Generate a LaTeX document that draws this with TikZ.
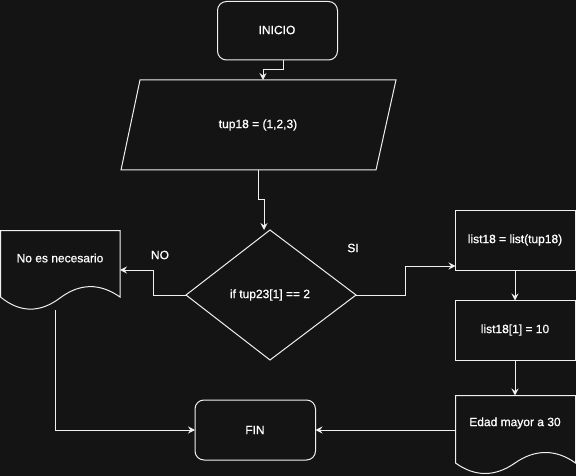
\documentclass[tikz,border=0pt]{standalone}
\usepackage{fontspec}
\setmainfont{Liberation Sans}
\newfontfamily\labfont[FakeBold=0.8]{Liberation Sans}
\usetikzlibrary{arrows.meta}
\definecolor{bg}{HTML}{141414}
\definecolor{fg}{HTML}{F0F0F0}
\begin{document}
\begin{tikzpicture}[x=1pt,y=-1pt,
  shp/.style={draw=fg,line width=1pt,line join=miter},
  txt/.style={text=white,font=\labfont\fontsize{12}{14}\selectfont,inner sep=0pt},
  conn/.style={draw=fg,line width=1pt,-{Stealth[length=7pt,width=7pt,inset=2.5pt]}}]
\fill[bg] (0,0) rectangle (576,476);
\useasboundingbox (0,0) rectangle (576,476);
% shapes
\draw[shp,rounded corners=9pt] (217.5,1.5) rectangle (337.5,60);
\draw[shp] (140,80) -- (396,80) -- (376,170) -- (121,170) -- cycle;
\draw[shp] (270,230) -- (356,295) -- (270,360) -- (186,295) -- cycle;
\draw[shp] (0.5,297) -- (0.5,230.5) -- (120,230.5) -- (120,297)
  .. controls (100,283) and (80,283) .. (60,298)
  .. controls (40,313) and (20,313) .. (0.5,297);
\draw[shp,rounded corners=9pt] (195,400) rectangle (315.5,460);
\draw[shp] (455.5,210.5) rectangle (575.5,270);
\draw[shp] (455.5,300.5) rectangle (575.5,360);
\draw[shp] (455.5,463) -- (455.5,395.5) -- (575.5,395.5) -- (575.5,463)
  .. controls (556,449) and (535,449) .. (515,463)
  .. controls (495,477) and (475,477) .. (455.5,463);
% text nodes
\node[txt] (ini) at (277,30) {INICIO};
\node[txt] (tup) at (258,125) {tup18 = (1,2,3)};
\node[txt] (cond) at (270,295) {if tup23[1] == 2};
\node[txt] (noes) at (60,258) {No es necesario};
\node[txt] (fin) at (255,430) {FIN};
\node[txt] (l18) at (515,240) {list18 = list(tup18)};
\node[txt] (l181) at (515,330) {list18[1] = 10};
\node[txt] (edad) at (515,423) {Edad mayor a 30};
\node[txt] (no) at (160,255) {NO};
\node[txt] (si) at (353,248) {SI};
% connection coordinates
\coordinate (iniB) at (283,60);
\coordinate (tupT) at (263,80);
\coordinate (tupB) at (258,170);
\coordinate (condT) at (264,230);
\coordinate (condL) at (186,295);
\coordinate (condR) at (356,295);
\coordinate (noesR) at (120,270);
\coordinate (noesB) at (55,310);
\coordinate (finL) at (195,430);
\coordinate (finR) at (315.5,430);
\coordinate (l18L) at (455.5,266);
\coordinate (l18B) at (515,270);
\coordinate (l181T) at (515,300.5);
\coordinate (l181B) at (515,360);
\coordinate (edadT) at (515,395.5);
\coordinate (edadL) at (455.5,430);
% connectors
\draw[conn] (iniB) -- (283,70) -- (263,70) -- (tupT);
\draw[conn] (tupB) -- (258,200) -- (264,200) -- (condT);
\draw[conn] (condL) -- (153,295) -- (153,270) -- (noesR);
\draw[conn] (condR) -- (405,295) -- (405,266) -- (l18L);
\draw[conn] (noesB) -- (55,430) -- (finL);
\draw[conn] (l18B) -- (l181T);
\draw[conn] (l181B) -- (edadT);
\draw[conn] (edadL) -- (finR);
\end{tikzpicture}
\end{document}
